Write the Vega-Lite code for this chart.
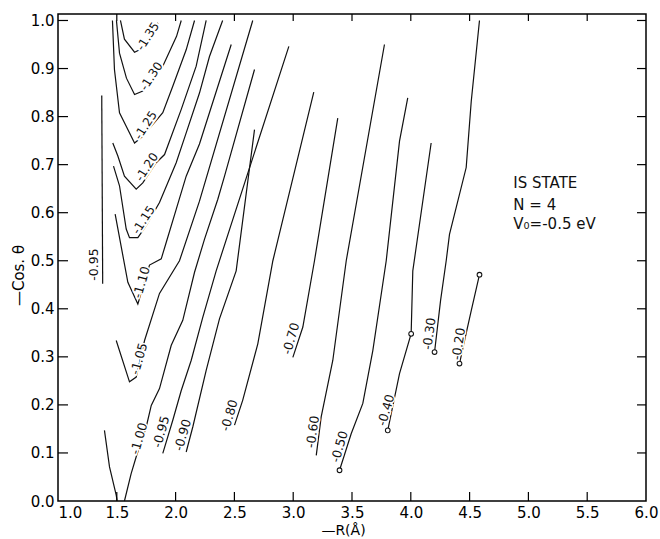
{
  "$schema": "https://vega.github.io/schema/vega-lite/v6.json",
  "width": 588,
  "height": 487,
  "autosize": {"type": "none"},
  "padding": {"left": 58, "top": 14, "right": 14, "bottom": 38},
  "background": "white",
  "config": {
    "view": {"stroke": "black", "strokeWidth": 1.5},
    "font": "DejaVu Sans",
    "axis": {"grid": false, "domain": false, "ticks": false, "labelColor": "black", "titleColor": "black", "labelFont": "DejaVu Sans", "titleFont": "DejaVu Sans", "labelFontSize": 15, "titleFontSize": 15, "titleFontWeight": "normal"}
  },
  "datasets": {
    "contours": [
      {"seg": "a135", "r": 1.531, "c": 1.0, "i": 1}, {"seg": "a135", "r": 1.565, "c": 0.961, "i": 2}, {"seg": "a135", "r": 1.651, "c": 0.934, "i": 3}, {"seg": "a135", "r": 1.719, "c": 0.942, "i": 4}, {"seg": "a135", "r": 1.85, "c": 0.995, "i": 5},
      {"seg": "a130", "r": 1.497, "c": 1.0, "i": 1}, {"seg": "a130", "r": 1.523, "c": 0.932, "i": 2}, {"seg": "a130", "r": 1.582, "c": 0.88, "i": 3}, {"seg": "a130", "r": 1.651, "c": 0.846, "i": 4}, {"seg": "a130", "r": 1.721, "c": 0.853, "i": 5}, {"seg": "a130", "r": 1.891, "c": 0.905, "i": 6}, {"seg": "a130", "r": 2.008, "c": 0.967, "i": 7}, {"seg": "a130", "r": 2.048, "c": 1.0, "i": 8},
      {"seg": "a125", "r": 1.463, "c": 1.0, "i": 1}, {"seg": "a125", "r": 1.48, "c": 0.898, "i": 2}, {"seg": "a125", "r": 1.523, "c": 0.808, "i": 3}, {"seg": "a125", "r": 1.58, "c": 0.78, "i": 4}, {"seg": "a125", "r": 1.651, "c": 0.745, "i": 5}, {"seg": "a125", "r": 1.721, "c": 0.759, "i": 6}, {"seg": "a125", "r": 1.891, "c": 0.808, "i": 7}, {"seg": "a125", "r": 1.976, "c": 0.863, "i": 8}, {"seg": "a125", "r": 2.09, "c": 0.939, "i": 9}, {"seg": "a125", "r": 2.161, "c": 1.0, "i": 10},
      {"seg": "a120", "r": 1.466, "c": 0.745, "i": 1}, {"seg": "a120", "r": 1.509, "c": 0.718, "i": 2}, {"seg": "a120", "r": 1.565, "c": 0.676, "i": 3}, {"seg": "a120", "r": 1.665, "c": 0.649, "i": 4}, {"seg": "a120", "r": 1.721, "c": 0.662, "i": 5}, {"seg": "a120", "r": 1.835, "c": 0.704, "i": 6}, {"seg": "a120", "r": 1.906, "c": 0.721, "i": 7}, {"seg": "a120", "r": 2.048, "c": 0.815, "i": 8}, {"seg": "a120", "r": 2.175, "c": 0.905, "i": 9}, {"seg": "a120", "r": 2.26, "c": 1.0, "i": 10},
      {"seg": "a115", "r": 1.472, "c": 0.697, "i": 1}, {"seg": "a115", "r": 1.523, "c": 0.656, "i": 2}, {"seg": "a115", "r": 1.58, "c": 0.566, "i": 3}, {"seg": "a115", "r": 1.608, "c": 0.548, "i": 4}, {"seg": "a115", "r": 1.679, "c": 0.548, "i": 5}, {"seg": "a115", "r": 1.75, "c": 0.573, "i": 6}, {"seg": "a115", "r": 1.863, "c": 0.621, "i": 7}, {"seg": "a115", "r": 2.005, "c": 0.704, "i": 8}, {"seg": "a115", "r": 2.09, "c": 0.766, "i": 9}, {"seg": "a115", "r": 2.203, "c": 0.849, "i": 10}, {"seg": "a115", "r": 2.288, "c": 0.925, "i": 11}, {"seg": "a115", "r": 2.4, "c": 1.0, "i": 12},
      {"seg": "a110", "r": 1.486, "c": 0.597, "i": 1}, {"seg": "a110", "r": 1.594, "c": 0.455, "i": 2}, {"seg": "a110", "r": 1.679, "c": 0.41, "i": 3}, {"seg": "a110", "r": 1.778, "c": 0.491, "i": 4}, {"seg": "a110", "r": 1.878, "c": 0.504, "i": 5}, {"seg": "a110", "r": 1.92, "c": 0.538, "i": 6}, {"seg": "a110", "r": 2.005, "c": 0.607, "i": 7}, {"seg": "a110", "r": 2.09, "c": 0.676, "i": 8}, {"seg": "a110", "r": 2.203, "c": 0.743, "i": 9}, {"seg": "a110", "r": 2.473, "c": 0.95, "i": 10},
      {"seg": "a105", "r": 1.495, "c": 0.334, "i": 1}, {"seg": "a105", "r": 1.608, "c": 0.248, "i": 2}, {"seg": "a105", "r": 1.665, "c": 0.258, "i": 3}, {"seg": "a105", "r": 1.736, "c": 0.334, "i": 4}, {"seg": "a105", "r": 1.863, "c": 0.432, "i": 5}, {"seg": "a105", "r": 2.033, "c": 0.5, "i": 6}, {"seg": "a105", "r": 2.203, "c": 0.624, "i": 7}, {"seg": "a105", "r": 2.656, "c": 1.0, "i": 8},
      {"seg": "a100L", "r": 1.395, "c": 0.147, "i": 1}, {"seg": "a100L", "r": 1.438, "c": 0.071, "i": 2}, {"seg": "a100L", "r": 1.495, "c": 0.012, "i": 3}, {"seg": "a100L", "r": 1.503, "c": 0.0, "i": 4},
      {"seg": "a100", "r": 1.565, "c": 0.0, "i": 1}, {"seg": "a100", "r": 1.622, "c": 0.057, "i": 2}, {"seg": "a100", "r": 1.665, "c": 0.092, "i": 3}, {"seg": "a100", "r": 1.75, "c": 0.154, "i": 4}, {"seg": "a100", "r": 1.793, "c": 0.199, "i": 5}, {"seg": "a100", "r": 1.863, "c": 0.234, "i": 6}, {"seg": "a100", "r": 1.963, "c": 0.324, "i": 7}, {"seg": "a100", "r": 2.061, "c": 0.376, "i": 8}, {"seg": "a100", "r": 2.161, "c": 0.476, "i": 9}, {"seg": "a100", "r": 2.246, "c": 0.545, "i": 10}, {"seg": "a100", "r": 2.359, "c": 0.628, "i": 11}, {"seg": "a100", "r": 2.416, "c": 0.676, "i": 12}, {"seg": "a100", "r": 2.671, "c": 0.898, "i": 13},
      {"seg": "a095L", "r": 1.372, "c": 0.844, "i": 1}, {"seg": "a095L", "r": 1.38, "c": 0.452, "i": 2},
      {"seg": "a095", "r": 1.891, "c": 0.099, "i": 1}, {"seg": "a095", "r": 1.976, "c": 0.168, "i": 2}, {"seg": "a095", "r": 2.048, "c": 0.23, "i": 3}, {"seg": "a095", "r": 2.133, "c": 0.293, "i": 4}, {"seg": "a095", "r": 2.231, "c": 0.382, "i": 5}, {"seg": "a095", "r": 2.345, "c": 0.479, "i": 6}, {"seg": "a095", "r": 2.963, "c": 0.946, "i": 7},
      {"seg": "a090", "r": 2.09, "c": 0.102, "i": 1}, {"seg": "a090", "r": 2.146, "c": 0.154, "i": 2}, {"seg": "a090", "r": 2.26, "c": 0.272, "i": 3}, {"seg": "a090", "r": 2.373, "c": 0.379, "i": 4}, {"seg": "a090", "r": 2.515, "c": 0.479, "i": 5}, {"seg": "a090", "r": 2.671, "c": 0.773, "i": 6},
      {"seg": "a080", "r": 2.501, "c": 0.158, "i": 1}, {"seg": "a080", "r": 2.571, "c": 0.21, "i": 2}, {"seg": "a080", "r": 2.699, "c": 0.327, "i": 3}, {"seg": "a080", "r": 2.827, "c": 0.5, "i": 4}, {"seg": "a080", "r": 3.175, "c": 0.851, "i": 5},
      {"seg": "a070", "r": 2.997, "c": 0.299, "i": 1}, {"seg": "a070", "r": 3.082, "c": 0.362, "i": 2}, {"seg": "a070", "r": 3.181, "c": 0.5, "i": 3}, {"seg": "a070", "r": 3.379, "c": 0.797, "i": 4},
      {"seg": "a060", "r": 3.196, "c": 0.095, "i": 1}, {"seg": "a060", "r": 3.238, "c": 0.175, "i": 2}, {"seg": "a060", "r": 3.337, "c": 0.293, "i": 3}, {"seg": "a060", "r": 3.451, "c": 0.5, "i": 4}, {"seg": "a060", "r": 3.776, "c": 0.95, "i": 5},
      {"seg": "a050", "r": 3.394, "c": 0.064, "i": 1}, {"seg": "a050", "r": 3.493, "c": 0.14, "i": 2}, {"seg": "a050", "r": 3.592, "c": 0.203, "i": 3}, {"seg": "a050", "r": 3.677, "c": 0.313, "i": 4}, {"seg": "a050", "r": 3.791, "c": 0.5, "i": 5}, {"seg": "a050", "r": 3.904, "c": 0.749, "i": 6}, {"seg": "a050", "r": 3.974, "c": 0.839, "i": 7},
      {"seg": "a040", "r": 3.804, "c": 0.147, "i": 1}, {"seg": "a040", "r": 3.904, "c": 0.265, "i": 2}, {"seg": "a040", "r": 4.003, "c": 0.348, "i": 3}, {"seg": "a040", "r": 4.017, "c": 0.479, "i": 4}, {"seg": "a040", "r": 4.173, "c": 0.745, "i": 5},
      {"seg": "a030", "r": 4.202, "c": 0.31, "i": 1}, {"seg": "a030", "r": 4.253, "c": 0.417, "i": 2}, {"seg": "a030", "r": 4.301, "c": 0.5, "i": 3}, {"seg": "a030", "r": 4.329, "c": 0.555, "i": 4}, {"seg": "a030", "r": 4.471, "c": 0.694, "i": 5}, {"seg": "a030", "r": 4.514, "c": 0.832, "i": 6}, {"seg": "a030", "r": 4.584, "c": 1.0, "i": 7},
      {"seg": "a020", "r": 4.414, "c": 0.286, "i": 1}, {"seg": "a020", "r": 4.457, "c": 0.334, "i": 2}, {"seg": "a020", "r": 4.514, "c": 0.396, "i": 3}, {"seg": "a020", "r": 4.584, "c": 0.471, "i": 4}
    ],
    "ends": [
      {"r": 3.394, "c": 0.064}, {"r": 3.804, "c": 0.147}, {"r": 4.003, "c": 0.348}, {"r": 4.202, "c": 0.31}, {"r": 4.414, "c": 0.286}, {"r": 4.584, "c": 0.471}
    ],
    "xt": [{"r": 1.5}, {"r": 2.0}, {"r": 2.5}, {"r": 3.0}, {"r": 3.5}, {"r": 4.0}, {"r": 4.5}, {"r": 5.0}, {"r": 5.5}],
    "yt": [{"c": 0.1}, {"c": 0.2}, {"c": 0.3}, {"c": 0.4}, {"c": 0.5}, {"c": 0.6}, {"c": 0.7}, {"c": 0.8}, {"c": 0.9}, {"c": 1.0}],
    "labA": [
      {"r": 1.764, "c": 0.967, "t": "-1.35"}, {"r": 1.793, "c": 0.884, "t": "-1.30"}, {"r": 1.745, "c": 0.782, "t": "-1.25"}, {"r": 1.755, "c": 0.695, "t": "-1.20"}, {"r": 1.728, "c": 0.585, "t": "-1.15"}
    ],
    "labB": [
      {"r": 1.712, "c": 0.455, "t": "-1.10"}, {"r": 1.69, "c": 0.296, "t": "-1.05"}, {"r": 1.69, "c": 0.13, "t": "-1.00"}, {"r": 1.878, "c": 0.144, "t": "-0.95"}, {"r": 2.061, "c": 0.137, "t": "-0.90"}, {"r": 2.458, "c": 0.178, "t": "-0.80"}, {"r": 2.983, "c": 0.338, "t": "-0.70"}, {"r": 3.394, "c": 0.113, "t": "-0.50"}, {"r": 3.791, "c": 0.189, "t": "-0.40"}
    ],
    "labC": [
      {"r": 3.167, "c": 0.144, "t": "-0.60"}, {"r": 4.159, "c": 0.348, "t": "-0.30"}, {"r": 4.408, "c": 0.327, "t": "-0.20"}
    ],
    "labD": [
      {"r": 1.31, "c": 0.492, "t": "-0.95"}
    ],
    "note": [
      {"r": 4.872, "c": 0.652, "t": "IS  STATE"}, {"r": 4.872, "c": 0.606, "t": "N = 4"}, {"r": 4.872, "c": 0.566, "t": "V₀=-0.5 eV"}
    ]
  },
  "layer": [
    {
      "data": {"name": "contours"},
      "mark": {"type": "line", "color": "#111", "strokeWidth": 1.2},
      "encoding": {
        "x": {"field": "r", "type": "quantitative", "scale": {"domain": [1, 6], "nice": false, "zero": false},
          "axis": {"orient": "bottom", "values": [1, 1.5, 2, 2.5, 3, 3.5, 4, 4.5, 5, 5.5, 6], "format": ".1f", "labelPadding": 4,
            "labelAlign": {"condition": {"test": "datum.value === 1", "value": "left"}, "value": "center"},
            "title": "—R(Å)", "titleX": 285, "titleY": 33, "titleBaseline": "alphabetic", "titleAlign": "center", "titleFontSize": 14}},
        "y": {"field": "c", "type": "quantitative", "scale": {"domain": [0, 1.0135], "nice": false, "zero": false},
          "axis": {"orient": "left", "values": [0, 0.1, 0.2, 0.3, 0.4, 0.5, 0.6, 0.7, 0.8, 0.9, 1.0], "format": ".1f", "labelPadding": 4,
            "title": "—Cos. θ", "titleX": -40, "titleY": 261, "titleAlign": "center", "titleBaseline": "middle", "titleAngle": -90}},
        "detail": {"field": "seg"},
        "order": {"field": "i", "type": "quantitative"}
      }
    },
    {
      "data": {"name": "xt"},
      "mark": {"type": "rule", "color": "#000", "strokeWidth": 1.2},
      "encoding": {"x": {"field": "r", "type": "quantitative"}, "y": {"datum": 0, "type": "quantitative"}, "y2": {"datum": 0.0187}}
    },
    {
      "data": {"name": "xt"},
      "mark": {"type": "rule", "color": "#000", "strokeWidth": 1.2},
      "encoding": {"x": {"field": "r", "type": "quantitative"}, "y": {"datum": 1.0135, "type": "quantitative"}, "y2": {"datum": 0.9989}}
    },
    {
      "data": {"name": "yt"},
      "mark": {"type": "rule", "color": "#000", "strokeWidth": 1.2},
      "encoding": {"y": {"field": "c", "type": "quantitative"}, "x": {"datum": 1, "type": "quantitative"}, "x2": {"datum": 1.085}}
    },
    {
      "data": {"name": "yt"},
      "mark": {"type": "rule", "color": "#000", "strokeWidth": 1.2},
      "encoding": {"y": {"field": "c", "type": "quantitative"}, "x": {"datum": 5.9235, "type": "quantitative"}, "x2": {"datum": 6}}
    },
    {
      "data": {"name": "ends"},
      "mark": {"type": "point", "shape": "circle", "size": 22, "filled": true, "fill": "white", "stroke": "#111", "strokeWidth": 1.1, "opacity": 1},
      "encoding": {
        "x": {"field": "r", "type": "quantitative"},
        "y": {"field": "c", "type": "quantitative"}
      }
    },
    {
      "data": {"name": "labA"},
      "encoding": {"x": {"field": "r", "type": "quantitative"}, "y": {"field": "c", "type": "quantitative"}, "text": {"field": "t"}},
      "layer": [
        {"mark": {"type": "text", "angle": -57, "fontSize": 12, "font": "DejaVu Sans", "fill": "white", "stroke": "white", "strokeWidth": 4, "align": "center", "baseline": "middle"}},
        {"mark": {"type": "text", "angle": -57, "fontSize": 12, "font": "DejaVu Sans", "fill": "#111", "align": "center", "baseline": "middle"}}
      ]
    },
    {
      "data": {"name": "labB"},
      "encoding": {"x": {"field": "r", "type": "quantitative"}, "y": {"field": "c", "type": "quantitative"}, "text": {"field": "t"}},
      "layer": [
        {"mark": {"type": "text", "angle": -74, "fontSize": 12.5, "font": "DejaVu Sans", "fill": "white", "stroke": "white", "strokeWidth": 3, "align": "center", "baseline": "middle"}},
        {"mark": {"type": "text", "angle": -74, "fontSize": 12.5, "font": "DejaVu Sans", "fill": "#111", "align": "center", "baseline": "middle"}}
      ]
    },
    {
      "data": {"name": "labC"},
      "encoding": {"x": {"field": "r", "type": "quantitative"}, "y": {"field": "c", "type": "quantitative"}, "text": {"field": "t"}},
      "layer": [
        {"mark": {"type": "text", "angle": -82, "fontSize": 12.5, "font": "DejaVu Sans", "fill": "white", "stroke": "white", "strokeWidth": 3, "align": "center", "baseline": "middle"}},
        {"mark": {"type": "text", "angle": -82, "fontSize": 12.5, "font": "DejaVu Sans", "fill": "#111", "align": "center", "baseline": "middle"}}
      ]
    },
    {
      "data": {"name": "labD"},
      "mark": {"type": "text", "angle": -90, "fontSize": 12.5, "font": "DejaVu Sans", "fill": "#111", "align": "center", "baseline": "middle"},
      "encoding": {"x": {"field": "r", "type": "quantitative"}, "y": {"field": "c", "type": "quantitative"}, "text": {"field": "t"}}
    },
    {
      "data": {"name": "note"},
      "mark": {"type": "text", "fontSize": 15, "font": "DejaVu Sans", "fill": "#111", "align": "left", "baseline": "alphabetic"},
      "encoding": {"x": {"field": "r", "type": "quantitative"}, "y": {"field": "c", "type": "quantitative"}, "text": {"field": "t"}}
    }
  ]
}
